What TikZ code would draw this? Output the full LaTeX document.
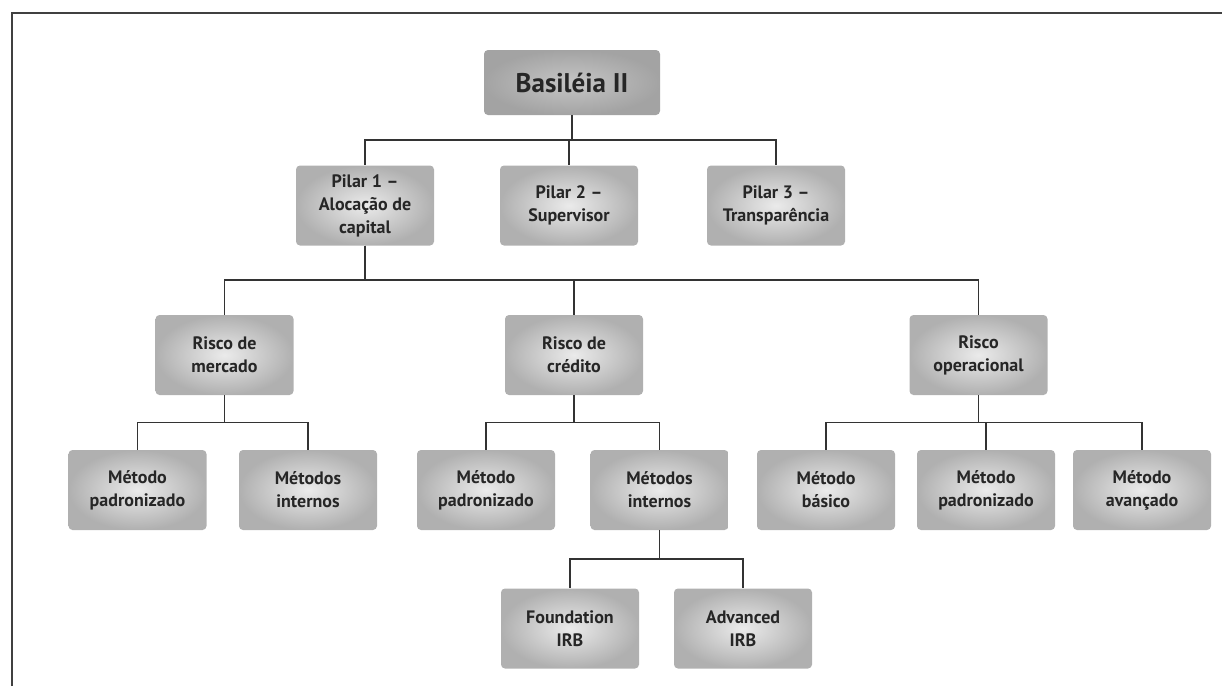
\documentclass[tikz,border=0pt]{standalone}
\usepackage{fontspec}
\setmainfont{PT Sans}
\usetikzlibrary{calc, positioning}

\begin{document}
\begin{tikzpicture}[x=1pt,y=-1pt,
                    box/.style={rectangle,rounded corners=4pt,minimum width=138pt,minimum height=80pt,
                      inner color=gray!16,outer color=gray!62,align=center,text=black!85,
                      font=\fontsize{18}{23}\selectfont\bfseries},
                    top box/.style={box,minimum width=176pt,minimum height=65pt,
                      inner color=gray!45,outer color=gray!72,font=\fontsize{27}{30}\selectfont\bfseries},
                    tree/.style={line width=1.7pt,black!80,
                      to path={(\tikztostart.south) |- ($(\tikztostart.south)!0.5!(\tikztotarget.north)$) -| (\tikztotarget.north)}}]

  \useasboundingbox (0,0) rectangle (1222,686);
  \draw[line width=2pt,black!75] (12,686) -- (12,13) -- (1222,13);

  \node[top box] (1) at (572,82.5) {Basiléia II};

  \node[box] (2) at (365,205.5) {Pilar 1 –\\Alocação de\\capital};
  \node[box] (3) at (569,205.5) {Pilar 2 –\\Supervisor};
  \node[box] (4) at (776,205.5) {Pilar 3 –\\Transparência};

  \node[box] (5) at (224.5,355) {Risco de\\mercado};
  \node[box] (6) at (574,355) {Risco de\\crédito};
  \node[box] (7) at (978.5,355) {Risco\\operacional};

  \node[box] (8) at (137.5,490) {Método\\padronizado};
  \node[box] (9) at (308,490) {Métodos\\internos};
  \node[box] (10) at (486,490) {Método\\padronizado};
  \node[box] (11) at (659.5,490) {Métodos\\internos};
  \node[box] (12) at (826,490) {Método\\básico};
  \node[box] (13) at (986,490) {Método\\padronizado};
  \node[box] (14) at (1142,490) {Método\\avançado};

  \node[box] (15) at (570,628.5) {Foundation\\IRB};
  \node[box] (16) at (743,628.5) {Advanced\\IRB};

  \path[tree]
    (1) edge (2)
        edge (3)
        edge (4)
    (2) edge (5)
        edge (6)
        edge (7)
    (5) edge (8)
        edge (9)
    (6) edge (10)
        edge (11)
    (7) edge (12)
        edge (13)
        edge (14)
    (11) edge (15)
         edge (16);

\end{tikzpicture}
\end{document}
